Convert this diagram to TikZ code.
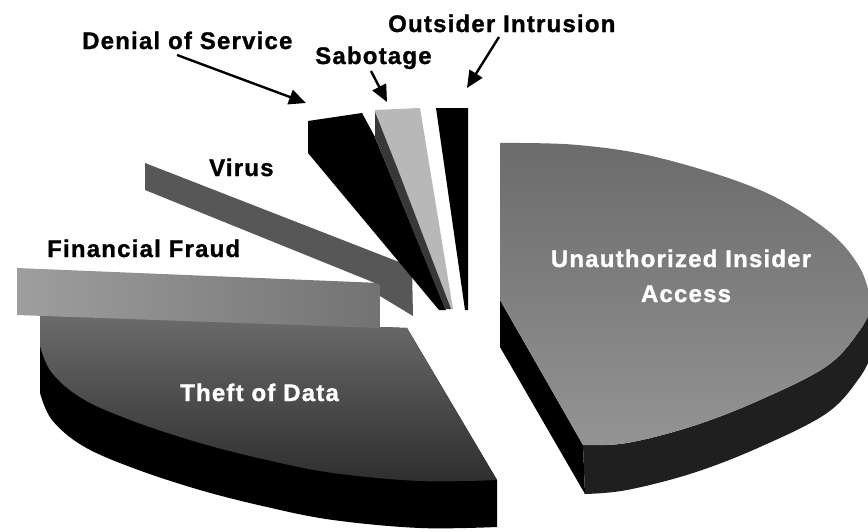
\documentclass[tikz,border=0pt]{standalone}
\usepackage{fontspec}
\usetikzlibrary{arrows.meta}
\newfontfamily\lblfont{Liberation Sans}[LetterSpace=5,FakeBold=1.2]

\tikzset{
  lbl/.style={font=\lblfont\bfseries\fontsize{24}{28}\selectfont, inner sep=0pt, anchor=base west},
  wlbl/.style={lbl, text=white},
  pointer/.style={line width=2.4pt, -{Triangle[length=17pt,width=15pt]}},
  sideface/.style={fill=black},
  rimface/.style={fill=black!88},
}

\begin{document}
\begin{tikzpicture}[x=1pt,y=-1pt]
\useasboundingbox (0,0) rectangle (868,531);

\begin{scope}
\clip (0,0) rectangle (868,531);

% ---- Unauthorized Insider Access (large slice) ----
% cut face along the lower radial edge
\fill[sideface] (500,300) -- (583,445) -- (585,494) -- (500,347) -- cycle;
% outer rim
\fill[rimface] (583,445) -- plot[smooth,tension=0.6] coordinates
  {(583,445) (627,443) (693,426) (760,400) (827,366) (860,330) (872,306)}
  -- (872,353) -- plot[smooth,tension=0.6] coordinates
  {(872,353) (860,377) (827,413) (760,447) (693,473) (627,490) (585,494)}
  -- cycle;
% top face
\shade[top color=black!58, bottom color=black!42]
  (500,143) -- plot[smooth,tension=0.6] coordinates
  {(500,143) (578,145) (660,158) (760,190) (827,230) (860,268) (872,306)}
  -- plot[smooth,tension=0.6] coordinates
  {(872,306) (860,330) (827,366) (760,400) (693,426) (627,443) (583,445)}
  -- (500,300) -- cycle;

% ---- Theft of Data ----
\fill[sideface] (40,315) -- (407,328) -- (497,480) -- (497,527)
  -- plot[smooth,tension=0.6] coordinates
  {(497,527) (420,528) (333,520) (267,507) (200,490) (133,468) (83,446) (52,420) (40,393)}
  -- cycle;
\shade[top color=black!58, bottom color=black!82]
  (40,315) -- (407,328) -- (497,480)
  -- plot[smooth,tension=0.6] coordinates
  {(497,480) (420,481) (333,473) (267,460) (200,443) (133,421) (83,399) (52,373) (40,346)}
  -- cycle;

% ---- Financial Fraud ----
\shade[left color=black!38, right color=black!55]
  (17,268) -- (380,283) -- (380,328) -- (17,315) -- cycle;

% ---- Virus ----
\fill[black!66] (145,163) -- (412,267) -- (413,316) -- (380,296)
  -- (380,285) -- (145,190) -- cycle;

% ---- Denial of Service ----
\fill[black] (308,121) -- (362,113) -- (375,137) -- (446,310)
  -- (439,310) -- (308,153) -- cycle;

% ---- Sabotage ----
\fill[black!28] (375,110) -- (420,108) -- (453,309) -- (447,309)
  -- (375,137) -- cycle;
\fill[black!78] (375,112) -- (398,170) -- (451,309) -- (445,309)
  -- (375,137) -- cycle;

% ---- Outsider Intrusion ----
\fill[black] (436,108) -- (468,108) -- (468,310) -- (465,310) -- cycle;
\end{scope}

% ---- labels ----
\node[lbl] (dos) at (82,49) {Denial of Service};
\node[lbl] (sab) at (315,64) {Sabotage};
\node[lbl] (out) at (388,32) {Outsider Intrusion};
\node[lbl] (vir) at (209,176) {Virus};
\node[lbl] (fin) at (47,257) {Financial Fraud};
\node[wlbl] (tod) at (180,401) {Theft of Data};
\node[wlbl, anchor=base] (uia) at (681,267) {Unauthorized Insider};
\node[wlbl, anchor=base] (acc) at (686,302) {Access};

% ---- pointers ----
\coordinate (dosA) at (177,55);
\coordinate (dosB) at (306,103);
\coordinate (sabA) at (371,71);
\coordinate (sabB) at (387,102);
\coordinate (outA) at (499,37);
\coordinate (outB) at (467,88);
\draw[pointer] (dosA) -- (dosB);
\draw[pointer] (sabA) -- (sabB);
\draw[pointer] (outA) -- (outB);
\end{tikzpicture}
\end{document}
